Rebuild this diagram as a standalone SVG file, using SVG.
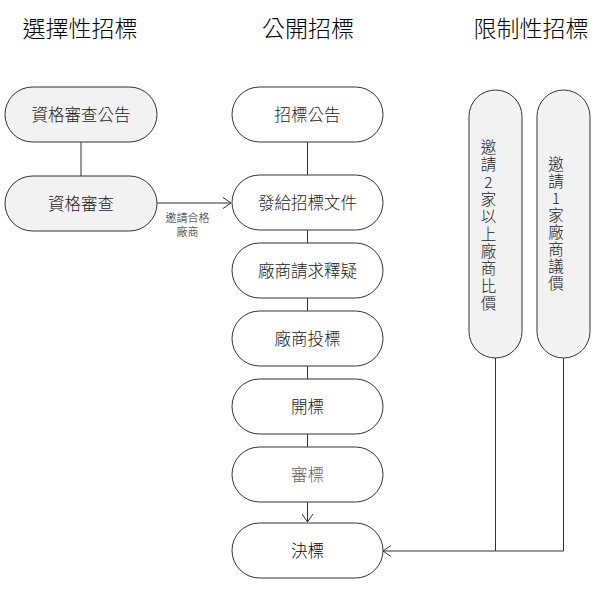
<svg xmlns="http://www.w3.org/2000/svg" width="599" height="596" viewBox="0 0 599 596">
<style>
text{font-family:"Noto Sans CJK TC","Noto Sans CJK SC",sans-serif;font-weight:300;}
.title{font-size:23px;fill:#000;text-anchor:middle;}
.n rect{stroke:#333;stroke-width:1;}
.g rect{fill:#f2f2f2;}
.w rect{fill:#fff;}
.n text{font-size:16.5px;fill:#1a1a1a;text-anchor:middle;}
.n text.v{font-size:15.5px;}
.c{fill:none;stroke:#333;stroke-width:1;}
.lbl{font-size:11px;fill:#1a1a1a;text-anchor:middle;}
</style>
<defs>
<marker id="arr" markerWidth="10" markerHeight="12" refX="8" refY="6" orient="auto" markerUnits="userSpaceOnUse">
<path d="M0,0.5 L8,6 L0,11.5" fill="none" stroke="#333" stroke-width="1"/>
</marker>
</defs>
<g id="titles">
<text class="title" x="80" y="37">選擇性招標</text>
<text class="title" x="308" y="37">公開招標</text>
<text class="title" x="531" y="37">限制性招標</text>
</g>
<g id="connectors">
<line class="c" x1="81" y1="142" x2="81" y2="176"/>
<line class="c" x1="157" y1="203" x2="231" y2="203" marker-end="url(#arr)"/>
<text class="lbl" x="187.5" y="222">邀請合格<tspan x="187.5" dy="14">廠商</tspan></text>
<line class="c" x1="307.5" y1="142" x2="307.5" y2="175"/>
<line class="c" x1="307.5" y1="230" x2="307.5" y2="243"/>
<line class="c" x1="307.5" y1="298" x2="307.5" y2="311"/>
<line class="c" x1="307.5" y1="366" x2="307.5" y2="379"/>
<line class="c" x1="307.5" y1="434" x2="307.5" y2="447"/>
<line class="c" x1="307.5" y1="502" x2="307.5" y2="522" marker-end="url(#arr)"/>
<polyline class="c" points="495.5,358 495.5,551 383,551" marker-end="url(#arr)"/>
<polyline class="c" points="563.5,358 563.5,551 495.5,551"/>
</g>
<g id="n1" class="n g"><rect x="5" y="87" width="152" height="55" rx="27.5"/><text x="81" y="120.5">資格審查公告</text></g>
<g id="n2" class="n g"><rect x="5" y="176" width="152" height="55" rx="27.5"/><text x="81" y="209.5">資格審查</text></g>
<g id="c1" class="n w"><rect x="232" y="87" width="151" height="55" rx="27.5"/><text x="307.5" y="120.5">招標公告</text></g>
<g id="c2" class="n w"><rect x="232" y="175" width="151" height="55" rx="27.5"/><text x="307.5" y="208.5">發給招標文件</text></g>
<g id="c3" class="n w"><rect x="232" y="243" width="151" height="55" rx="27.5"/><text x="307.5" y="276.5">廠商請求釋疑</text></g>
<g id="c4" class="n w"><rect x="232" y="311" width="151" height="55" rx="27.5"/><text x="307.5" y="344.5">廠商投標</text></g>
<g id="c5" class="n w"><rect x="232" y="379" width="151" height="55" rx="27.5"/><text x="307.5" y="412.5">開標</text></g>
<g id="c6" class="n w"><rect x="232" y="447" width="151" height="55" rx="27.5"/><text x="307.5" y="480.5" style="fill:#666">審標</text></g>
<g id="c7" class="n w"><rect x="232" y="523" width="151" height="55" rx="27.5"/><text x="307.5" y="556.5" style="fill:#000">決標</text></g>
<g id="r1" class="n g"><rect x="469" y="90" width="53" height="268" rx="26.5"/>
<text class="v" x="488.5" y="153">邀</text><text class="v" x="488.5" y="170.3">請</text><text class="v" x="488.5" y="187.6">2</text><text class="v" x="488.5" y="205">家</text><text class="v" x="488.5" y="222.3">以</text><text class="v" x="488.5" y="239.6">上</text><text class="v" x="488.5" y="257">廠</text><text class="v" x="488.5" y="274.3">商</text><text class="v" x="488.5" y="291.6">比</text><text class="v" x="488.5" y="309">價</text>
</g>
<g id="r2" class="n g"><rect x="537" y="90" width="53" height="268" rx="26.5"/>
<text class="v" x="556" y="170">邀</text><text class="v" x="556" y="187">請</text><text class="v" x="556" y="204">1</text><text class="v" x="556" y="221">家</text><text class="v" x="556" y="238">廠</text><text class="v" x="556" y="255">商</text><text class="v" x="556" y="272">議</text><text class="v" x="556" y="289">價</text>
</g>
</svg>
